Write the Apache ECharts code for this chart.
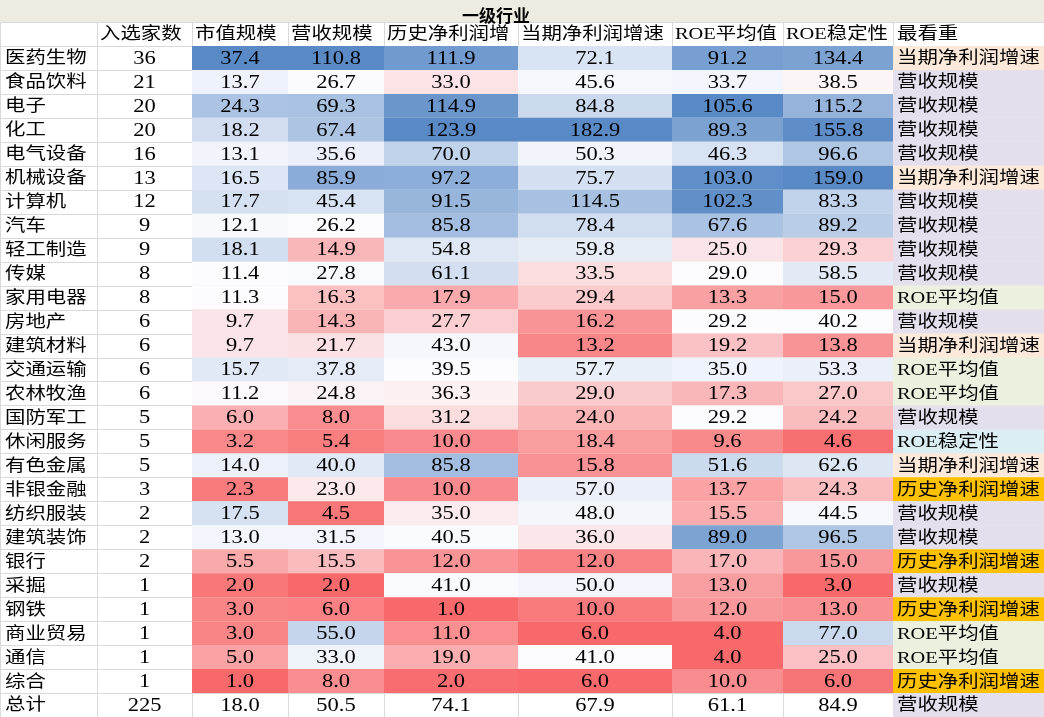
<!DOCTYPE html>
<html><head><meta charset="utf-8">
<script src="https://cdn.jsdelivr.net/npm/echarts@6/dist/echarts.min.js"></script>
<style>html,body{margin:0;padding:0;background:#fff}#c{width:1044px;height:717px}</style>
</head><body><div id="c"></div>
<script>
const chartTitle = '一级行业';
const headers = ['入选家数','市值规模','营收规模','历史净利润增','当期净利润增速','ROE平均值','ROE稳定性','最看重'];
const industries = ['医药生物','食品饮料','电子','化工','电气设备','机械设备','计算机','汽车','轻工制造','传媒','家用电器','房地产','建筑材料','交通运输','农林牧渔','国防军工','休闲服务','有色金属','非银金融','纺织服装','建筑装饰','银行','采掘','钢铁','商业贸易','通信','综合'];
const counts = [36,21,20,20,16,13,12,9,9,8,8,6,6,6,6,5,5,5,3,2,2,2,1,1,1,1,1];
const marketCap = [37.4,13.7,24.3,18.2,13.1,16.5,17.7,12.1,18.1,11.4,11.3,9.7,9.7,15.7,11.2,6.0,3.2,14.0,2.3,17.5,13.0,5.5,2.0,3.0,3.0,5.0,1.0];
const revenue = [110.8,26.7,69.3,67.4,35.6,85.9,45.4,26.2,14.9,27.8,16.3,14.3,21.7,37.8,24.8,8.0,5.4,40.0,23.0,4.5,31.5,15.5,2.0,6.0,55.0,33.0,8.0];
const histProfitGrowth = [111.9,33.0,114.9,123.9,70.0,97.2,91.5,85.8,54.8,61.1,17.9,27.7,43.0,39.5,36.3,31.2,10.0,85.8,10.0,35.0,40.5,12.0,41.0,1.0,11.0,19.0,2.0];
const currProfitGrowth = [72.1,45.6,84.8,182.9,50.3,75.7,114.5,78.4,59.8,33.5,29.4,16.2,13.2,57.7,29.0,24.0,18.4,15.8,57.0,48.0,36.0,12.0,50.0,10.0,6.0,41.0,6.0];
const roeMean = [91.2,33.7,105.6,89.3,46.3,103.0,102.3,67.6,25.0,29.0,13.3,29.2,19.2,35.0,17.3,29.2,9.6,51.6,13.7,15.5,89.0,17.0,13.0,12.0,4.0,4.0,10.0];
const roeStability = [134.4,38.5,115.2,155.8,96.6,159.0,83.3,89.2,29.3,58.5,15.0,40.2,13.8,53.3,27.0,24.2,4.6,62.6,24.3,44.5,96.5,15.0,3.0,13.0,77.0,25.0,6.0];
const priority = ['当期净利润增速','营收规模','营收规模','营收规模','营收规模','当期净利润增速','营收规模','营收规模','营收规模','营收规模','ROE平均值','营收规模','当期净利润增速','ROE平均值','ROE平均值','营收规模','ROE稳定性','当期净利润增速','历史净利润增速','营收规模','营收规模','历史净利润增速','营收规模','历史净利润增速','ROE平均值','ROE平均值','历史净利润增速'];
const totalLabel = '总计';
const totalCount = 225;
const totalValues = [18.0,50.5,74.1,67.9,61.1,84.9];
const totalPriority = '营收规模';

// layout / style constants
const colEdges = [0,97,192,288,384,518,672,783,893,1044];
const prefColors = {'当期净利润增速':'#fde9d9','营收规模':'#e4dfec','ROE平均值':'#ebf1de','ROE稳定性':'#daeef3','历史净利润增速':'#ffc000'};
const RED=[248,105,107], WHITE=[252,252,255], BLUE=[90,138,198];
const NUM_FONT = "18px 'Liberation Serif',serif";
const TXT_FONT = "17px 'Liberation Serif','Noto Sans CJK SC',serif";
const NUM_SX = 1.25, TXT_SX = 1.2;

function makeScale(vals){
  const s=[...vals].sort((a,b)=>a-b), n=s.length, min=s[0], max=s[n-1];
  const mid = n%2 ? s[(n-1)/2] : (s[n/2-1]+s[n/2])/2;
  return v=>{
    let a,b,t;
    if(v<=mid){a=RED;b=WHITE;t=mid===min?1:(v-min)/(mid-min);} else {a=WHITE;b=BLUE;t=(v-mid)/(max-mid);}
    return 'rgb('+a.map((x,i)=>Math.round(x+(b[i]-x)*t)).join(',')+')';
  };
}
const metricCols = [marketCap,revenue,histProfitGrowth,currProfitGrowth,roeMean,roeStability];
const scales = metricCols.map(makeScale);

const rowLabels = ['header'].concat(industries, [totalLabel]);
const cells = [];
function add(c,r,text,fill,align,grid,num){cells.push({c,r,text,fill,align,grid,num});}
add(0,0,'','#ffffff','left',true,false);
headers.forEach((h,i)=>add(i+1,0,h,'#ffffff','left',true,false));
industries.forEach((name,k)=>{
  const r=k+1;
  add(0,r,name,'#ffffff','left',true,false);
  add(1,r,String(counts[k]),'#ffffff','center',true,true);
  metricCols.forEach((arr,j)=>add(j+2,r,arr[k].toFixed(1),scales[j](arr[k]),'center',false,true));
  add(8,r,priority[k],prefColors[priority[k]],'left',false,false);
});
const tr = industries.length+1;
add(0,tr,totalLabel,'#ffffff','left',true,false);
add(1,tr,String(totalCount),'#ffffff','center',true,true);
totalValues.forEach((v,j)=>add(j+2,tr,v.toFixed(1),'#ffffff','center',true,true));
add(8,tr,totalPriority,prefColors[totalPriority],'left',false,false);

cells.sort((a,b)=>(a.grid===b.grid?0:(a.grid?-1:1)));
const data = cells.map(o=>[colEdges[o.c], colEdges[o.c+1], o.r]);

const chart = echarts.init(document.getElementById('c'));
chart.setOption({
  backgroundColor:'#eeece1',
  animation:false,
  title:{text:chartTitle,left:457,top:2,textStyle:{fontSize:17,fontWeight:'bold',color:'#000',fontFamily:"'Noto Sans CJK SC',sans-serif"}},
  grid:{left:0,right:0,top:22,bottom:0},
  xAxis:{type:'value',min:0,max:1044,show:false},
  yAxis:{type:'category',data:rowLabels,inverse:true,show:false},
  series:[{
    type:'custom',
    clip:false,
    encode:{x:[0,1],y:2},
    data:data,
    renderItem:function(params,api){
      const o = cells[params.dataIndex];
      const p0 = api.coord([api.value(0), api.value(2)]);
      const p1 = api.coord([api.value(1), api.value(2)]);
      const h = api.size([0,1])[1];
      const y0 = p0[1]-h/2;
      const children = [];
      if(o.grid){
        children.push({type:'rect',shape:{x:Math.round(p0[0])+0.5,y:Math.round(y0)+0.5,width:Math.round(p1[0]-p0[0]),height:Math.round(h)},style:{fill:o.fill,stroke:'#d9d9d9',lineWidth:1}});
      } else {
        children.push({type:'rect',shape:{x:p0[0],y:y0,width:p1[0]-p0[0],height:h},style:{fill:o.fill}});
      }
      if(o.text){
        const tx = o.align==='center' ? (p0[0]+p1[0])/2 : p0[0]+ (o.c===0?5:(o.c===8?4:3));
        children.push({type:'text',x:tx,y:p0[1]+1,scaleX:o.num?NUM_SX:TXT_SX,style:{text:o.text,x:0,y:0,font:o.num?NUM_FONT:TXT_FONT,fill:'#000',align:o.align,verticalAlign:'middle'}});
      }
      return {type:'group',children:children};
    }
  }]
});
</script></body></html>
